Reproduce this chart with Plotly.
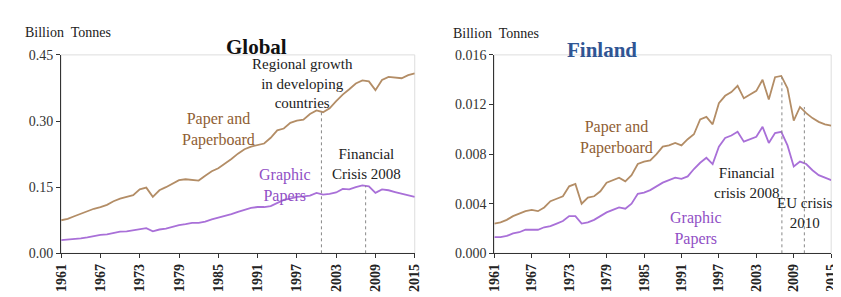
import plotly.graph_objects as go

years = list(range(1961, 2016))

global_paper = [0.075, 0.078, 0.084, 0.090, 0.095, 0.101, 0.105, 0.110, 0.118, 0.124,
                0.128, 0.132, 0.145, 0.149, 0.128, 0.143, 0.150, 0.158, 0.166, 0.168,
                0.167, 0.165, 0.176, 0.186, 0.193, 0.203, 0.214, 0.226, 0.236, 0.242,
                0.246, 0.249, 0.262, 0.279, 0.283, 0.296, 0.301, 0.303, 0.316, 0.324,
                0.320, 0.329, 0.345, 0.360, 0.372, 0.385, 0.392, 0.390, 0.370, 0.393,
                0.400, 0.398, 0.397, 0.404, 0.408]
global_graphic = [0.030, 0.031, 0.032, 0.034, 0.036, 0.039, 0.042, 0.043, 0.046, 0.049,
                  0.050, 0.052, 0.055, 0.057, 0.050, 0.054, 0.056, 0.060, 0.064, 0.066,
                  0.069, 0.069, 0.072, 0.077, 0.081, 0.084, 0.089, 0.094, 0.099, 0.103,
                  0.105, 0.105, 0.107, 0.114, 0.121, 0.124, 0.128, 0.129, 0.131, 0.137,
                  0.133, 0.135, 0.138, 0.146, 0.145, 0.150, 0.154, 0.152, 0.137, 0.145,
                  0.143, 0.139, 0.135, 0.131, 0.128]
finland_paper = [0.0024, 0.0025, 0.0027, 0.0030, 0.0032, 0.0034, 0.0035, 0.0034, 0.0037, 0.0042,
                 0.0044, 0.0046, 0.0054, 0.0056, 0.0040, 0.0045, 0.0046, 0.0050, 0.0057, 0.0059,
                 0.0061, 0.0058, 0.0063, 0.0072, 0.0074, 0.0075, 0.0080, 0.0086, 0.0087, 0.0089,
                 0.0087, 0.0092, 0.0096, 0.0108, 0.0110, 0.0104, 0.0121, 0.0127, 0.0130, 0.0135,
                 0.0125, 0.0128, 0.0131, 0.0140, 0.0124, 0.0142, 0.0143, 0.0133, 0.0107, 0.0118,
                 0.0113, 0.0109, 0.0106, 0.0104, 0.0103]
finland_graphic = [0.0013, 0.0013, 0.0014, 0.0016, 0.0017, 0.0019, 0.0019, 0.0019, 0.0021, 0.0022,
                   0.0024, 0.0026, 0.0030, 0.0030, 0.0024, 0.0025, 0.0027, 0.0030, 0.0033, 0.0035,
                   0.0037, 0.0036, 0.0040, 0.0048, 0.0049, 0.0051, 0.0054, 0.0057, 0.0059, 0.0061,
                   0.0060, 0.0062, 0.0068, 0.0073, 0.0077, 0.0072, 0.0086, 0.0093, 0.0095, 0.0098,
                   0.0090, 0.0092, 0.0094, 0.0102, 0.0089, 0.0097, 0.0098, 0.0087, 0.0070, 0.0074,
                   0.0072, 0.0067, 0.0063, 0.0061, 0.0059]

x_ticks = list(range(1961, 2016, 6))
global_yticks = [0.0, 0.15, 0.30, 0.45]
finland_yticks = [0.0, 0.004, 0.008, 0.012, 0.016]

# event markers: (year, top value)
global_events = [(2000.75, 0.322), (2007.5, 0.153)]
finland_events = [(2007.1, 0.0142), (2010.7, 0.0118)]

SERIF = "Liberation Serif, Times New Roman, serif"
BROWN = "#b38d66"
PURPLE = "#a970d8"
BROWN_T = "#8f5e33"
PURPLE_T = "#9150c5"

fig = go.Figure()
fig.add_trace(go.Scatter(x=years, y=global_paper, mode="lines", line=dict(color=BROWN, width=1.8),
                         xaxis="x", yaxis="y", showlegend=False))
fig.add_trace(go.Scatter(x=years, y=global_graphic, mode="lines", line=dict(color=PURPLE, width=1.8),
                         xaxis="x", yaxis="y", showlegend=False))
fig.add_trace(go.Scatter(x=years, y=finland_paper, mode="lines", line=dict(color=BROWN, width=1.8),
                         xaxis="x2", yaxis="y2", showlegend=False))
fig.add_trace(go.Scatter(x=years, y=finland_graphic, mode="lines", line=dict(color=PURPLE, width=1.8),
                         xaxis="x2", yaxis="y2", showlegend=False))

W, H = 841, 297
ydom = [1 - 251 / H, 1 - 42 / H]

xaxis_common = dict(range=[1961, 2015], tickvals=x_ticks, ticktext=[str(v) for v in x_ticks],
                    tickangle=-90, ticks="outside", ticklen=4, tickcolor="#333",
                    showline=True, linecolor="#333", linewidth=1.2, showgrid=False, zeroline=False,
                    tickfont=dict(family=SERIF, size=14, color="#222", weight="bold"))
yaxis_common = dict(ticks="outside", ticklen=4, tickcolor="#333", showline=True, linecolor="#333",
                    linewidth=1.2, showgrid=False, zeroline=False,
                    tickfont=dict(family=SERIF, size=14, color="#333"))

fig.update_layout(
    width=W, height=H, margin=dict(l=0, r=0, t=0, b=0),
    paper_bgcolor="white", plot_bgcolor="white",
    xaxis=dict(domain=[47 / W, 407 / W], anchor="y", **xaxis_common),
    yaxis=dict(domain=ydom, anchor="x", range=[0, 0.45], tickvals=global_yticks,
               ticktext=[f"{v:.2f}" for v in global_yticks], **yaxis_common),
    xaxis2=dict(domain=[488 / W, 831 / W], anchor="y2", **xaxis_common),
    yaxis2=dict(domain=ydom, anchor="x2", range=[0, 0.016], tickvals=finland_yticks,
                ticktext=[f"{v:.3f}" for v in finland_yticks], **yaxis_common),
)

shapes = []
for xr, yr in (("x domain", "y domain"), ("x2 domain", "y2 domain")):
    shapes.append(dict(type="rect", xref=xr, yref=yr, x0=0, x1=1, y0=0, y1=1,
                       line=dict(color="#dddddd", width=1), layer="below"))
for (xv, top) in global_events:
    shapes.append(dict(type="line", xref="x", yref="y", x0=xv, x1=xv, y0=0, y1=top,
                       line=dict(color="#888", width=1, dash="dot")))
for (xv, top) in finland_events:
    shapes.append(dict(type="line", xref="x2", yref="y2", x0=xv, x1=xv, y0=0, y1=top,
                       line=dict(color="#888", width=1, dash="dot")))
fig.update_layout(shapes=shapes)

ann = []
def txt(text, x, y, xref, yref, color="#222", size=14, **kw):
    ann.append(dict(text=text, x=x, y=y, xref=xref, yref=yref, showarrow=False,
                    font=dict(family=SERIF, size=size, color=color), **kw))

# headers
txt("Billion  Tonnes", 8 / W, 1 - 18 / H, "paper", "paper", size=14, xanchor="left", yanchor="middle")
txt("Billion  Tonnes", 444 / W, 1 - 19 / H, "paper", "paper", size=14, xanchor="left", yanchor="middle")
txt("<b>Global</b>", 213 / W, 1 - 19 / H, "paper", "paper", size=21, color="#111")
txt("<b>Finland</b>", 635 / W, 1 - 22 / H, "paper", "paper", size=21, color="#2f5594")

# global annotations
txt("Paper and<br>Paperboard", 1985.0, 0.280, "x", "y", color=BROWN_T, size=16)
txt("Graphic<br>Papers", 1995.2, 0.153, "x", "y", color=PURPLE_T, size=16)
txt("Regional growth<br>in developing<br>countries", 1997.8, 0.385, "x", "y", size=15)
txt("Financial<br>Crisis 2008", 2007.7, 0.202, "x", "y", size=15)

# finland annotations
txt("Paper and<br>Paperboard", 1980.6, 0.00937, "x2", "y2", color=BROWN_T, size=16)
txt("Graphic<br>Papers", 1993.3, 0.0020, "x2", "y2", color=PURPLE_T, size=16)
txt("Financial<br>crisis 2008", 2006.9, 0.00564, "x2", "y2", size=15, xanchor="right")
txt("EU crisis<br>2010", 2010.8, 0.00323, "x2", "y2", size=15)

fig.update_layout(annotations=ann)
fig.write_html("out.html")
